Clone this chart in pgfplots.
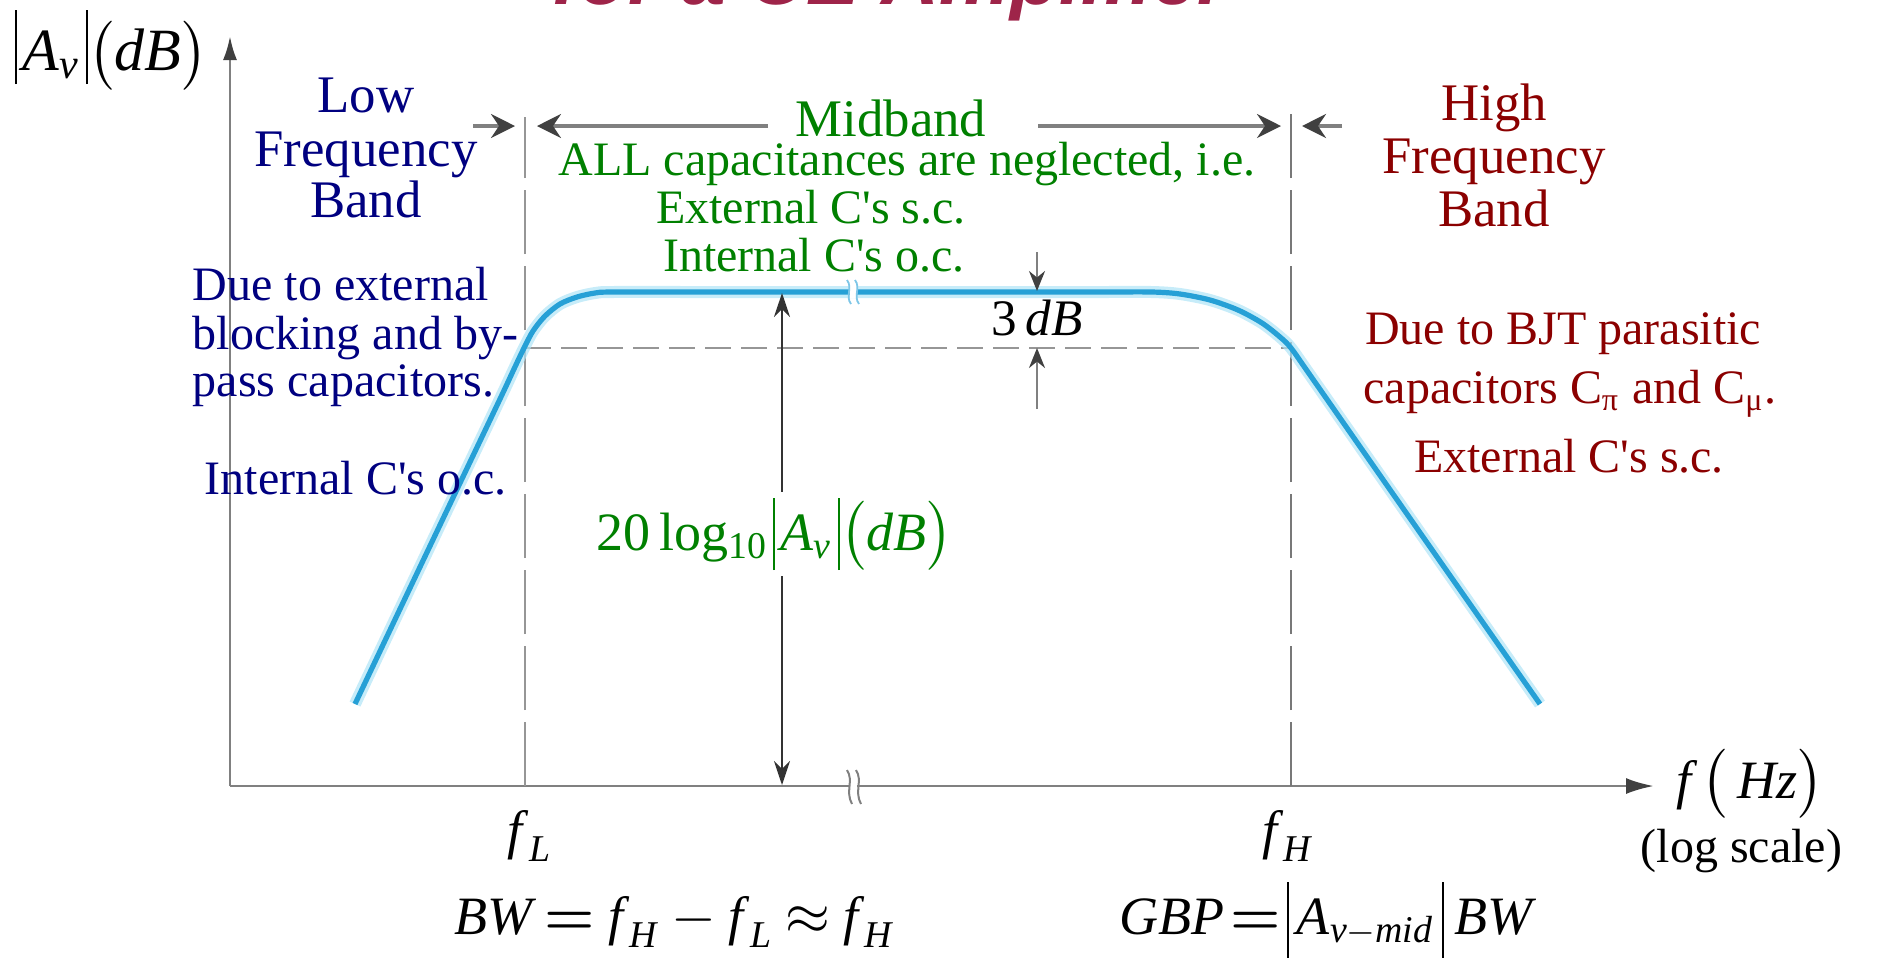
\documentclass[border=0pt]{standalone}
\usepackage{amsmath}
\usepackage{fontspec}
\setmainfont{Liberation Serif}
\newfontfamily\titlefont{Liberation Sans}
\usepackage{pgfplots}
\pgfplotsset{compat=1.18}
\usepackage{pgfplotstable}
\usetikzlibrary{arrows.meta}

\definecolor{curveblue}{RGB}{38,160,214}
\definecolor{glowblue}{RGB}{175,228,246}
\definecolor{bandnavy}{RGB}{0,0,128}
\definecolor{midgreen}{RGB}{0,128,0}
\definecolor{hired}{RGB}{139,0,0}
\definecolor{titlered}{RGB}{158,36,73}
\definecolor{axisgray}{RGB}{128,128,128}
\definecolor{dashgray}{RGB}{150,150,150}

\newcommand\bodyfont{\fontsize{12}{12.5}\selectfont}
\newcommand\headfont{\fontsize{13.2}{13.2}\selectfont}
\newcommand\eqfont{\fontsize{13.5}{13.5}\selectfont}
\newcommand\sq{\textquotesingle}
\newcommand\beq{\mathord{\boldsymbol{=}}}
% absolute-value bar of a given height and depth
\newcommand\tbar[2]{\vrule width 0.5pt height #1 depth #2\relax}

% magnitude response of the amplifier (schematic, log-frequency axis)
\pgfplotstableread{
x y
355 253
400 348
450 453
500 558
514 588
524 609
533 626
545 641
560 653
577 660
595 664
612 665
700 665
800 665
900 665
1000 665
1100 665
1152 665
1180 663
1210 657
1238 647
1262 634
1280 620
1291 609
1310 582
1400 453
1500 310
1540 253
}\curvedata

\begin{document}
\begin{tikzpicture}
\begin{axis}[
  scale only axis,
  width=356pt, height=187.5pt,
  xmin=230, xmax=1654, ymin=171, ymax=921,
  axis lines=left,
  x axis line style={draw=axisgray, line width=0.7pt, -{Latex[length=7pt,width=4pt,black!75]}},
  y axis line style={draw=axisgray, line width=0.7pt, -{Latex[length=6pt,width=3.5pt,black!75]}},
  xtick=\empty, ytick=\empty,
  clip=false,
]
\coordinate (bbsw) at (axis cs:0,0);
\coordinate (bbne) at (axis cs:1882,957);

% cut-off frequencies and the -3 dB level
\draw[dashgray, line width=0.55pt, dash pattern=on 16pt off 3pt] (axis cs:525,171) -- (axis cs:525,840);
\draw[dashgray!80!black, line width=0.55pt, dash pattern=on 16pt off 3pt] (axis cs:1291,171) -- (axis cs:1291,845);
\draw[dashgray, line width=0.55pt, dash pattern=on 6.5pt off 2.5pt] (axis cs:525,609) -- (axis cs:1291,609);

% response curve with its soft halo
\addplot[glowblue, line width=3pt, smooth, tension=0.5, opacity=0.7] table[x=x, y=y] {\curvedata};
\addplot[curveblue, line width=1.3pt, smooth, tension=0.5] table[x=x, y=y] {\curvedata};

% break marks on the curve and on the frequency axis
\fill[white] (axis cs:850,659) rectangle (axis cs:857,671);
\draw[curveblue!60, line width=0.45pt] (axis cs:847,677) .. controls (axis cs:853,669) and (axis cs:845,661) .. (axis cs:851,653);
\draw[curveblue!60, line width=0.45pt] (axis cs:855,677) .. controls (axis cs:861,669) and (axis cs:853,661) .. (axis cs:859,653);
\fill[white] (axis cs:850,165) rectangle (axis cs:857,177);
\draw[axisgray, line width=0.5pt] (axis cs:847,187) .. controls (axis cs:854,176) and (axis cs:845,166) .. (axis cs:852,153);
\draw[axisgray, line width=0.5pt] (axis cs:856,187) .. controls (axis cs:863,176) and (axis cs:854,166) .. (axis cs:861,153);

% midband extent markers
\begin{scope}[axisgray, line width=0.8pt, -{Stealth[length=6pt,width=6pt,inset=2pt,black!75]}]
\draw (axis cs:473,831) -- (axis cs:515,831);
\draw (axis cs:768,831) -- (axis cs:537,831);
\draw (axis cs:1038,831) -- (axis cs:1281,831);
\draw (axis cs:1342,831) -- (axis cs:1302,831);
\end{scope}

% 3 dB markers
\draw[axisgray, line width=0.6pt, -{Stealth[length=5pt,width=4pt,black!75]}] (axis cs:1037,705) -- (axis cs:1037,666);
\draw[axisgray, line width=0.6pt, -{Stealth[length=5pt,width=4pt,black!75]}] (axis cs:1037,548) -- (axis cs:1037,609);
\node[anchor=base, inner sep=0pt, font=\fontsize{12.8}{12.8}\selectfont] at (axis cs:1037,622) {3\,\textit{dB}};

% midband gain
\draw[black!80, line width=0.6pt, {Stealth[length=6pt,width=4pt]}-{Stealth[length=6pt,width=4pt]}] (axis cs:782,664) -- (axis cs:782,172);
\node[anchor=base, fill=white, inner sep=1.5pt, text=midgreen, font=\eqfont] at (axis cs:775,407)
  {20\,log\textsubscript{10}\kern1pt\tbar{13pt}{5pt}\kern1.5pt\textit{A}\textsubscript{\textit{v}}\kern1.5pt\tbar{13pt}{5pt}$\bigl($\textit{dB}$\bigr)$};

% axis titles
\node[anchor=base west, inner sep=0pt, font=\fontsize{15}{15}\selectfont] at (axis cs:14,887)
  {\tbar{15pt}{3.5pt}\kern1.5pt\textit{A}\textsubscript{\textit{v}}\kern1.5pt\tbar{15pt}{3.5pt}$\bigl($\textit{dB}$\bigr)$};
\node[anchor=base west, inner sep=0pt, font=\eqfont] at (axis cs:1676,159)
  {$\textit{f}\,\bigl(\,\textit{Hz}\bigr)$};
\node[anchor=base west, inner sep=0pt, font=\bodyfont] at (axis cs:1640,95) {(log scale)};
\node[anchor=base, inner sep=0pt, font=\eqfont] at (axis cs:530,109) {$\textit{f}_{\,\textit{L}}$};
\node[anchor=base, inner sep=0pt, font=\eqfont] at (axis cs:1288,109) {$\textit{f}_{\,\textit{H}}$};

% bandwidth relations
\node[anchor=base, inner sep=0pt, font=\eqfont] at (axis cs:674,23)
  {$\textit{BW}\mkern4mu\beq\mkern4mu\textit{f}_{\,\textit{H}}\mkern4mu\mathord{-}\mkern4mu\textit{f}_{\,\textit{L}}\mkern4mu\mathord{\approx}\mkern4mu\textit{f}_{\,\textit{H}}$};
\node[anchor=base, inner sep=0pt, font=\eqfont] at (axis cs:1328,23)
  {\textit{GBP}\kern1.5pt$\beq$\kern1.5pt\tbar{13pt}{6pt}\kern2pt\textit{A}$_{\textit{v}-\textit{mid}}$\kern2pt\tbar{13pt}{6pt}\kern2.5pt\textit{BW}};

% low-frequency band
\begin{scope}[every node/.style={anchor=base, inner sep=0pt, text=bandnavy, font=\headfont}]
\node at (axis cs:366,845) {Low};
\node at (axis cs:366,791) {Frequency};
\node at (axis cs:366,740) {Band};
\end{scope}
\begin{scope}[every node/.style={anchor=base west, inner sep=0pt, text=bandnavy, font=\bodyfont}]
\node at (axis cs:192,657) {Due to external};
\node at (axis cs:192,608) {blocking and by-};
\node at (axis cs:192,561) {pass capacitors.};
\node at (axis cs:204,463) {Internal C\sq s o.c.};
\end{scope}

% midband
\begin{scope}[every node/.style={anchor=base, inner sep=0pt, text=midgreen, font=\bodyfont}]
\node[font=\headfont] at (axis cs:891,821) {Midband};
\node at (axis cs:907,782) {ALL capacitances are neglected, i.e.};
\node at (axis cs:811,734) {External C\sq s s.c.};
\node at (axis cs:814,686) {Internal C\sq s o.c.};
\end{scope}

% high-frequency band
\begin{scope}[every node/.style={anchor=base, inner sep=0pt, text=hired, font=\headfont}]
\node at (axis cs:1494,837) {High};
\node at (axis cs:1494,784) {Frequency};
\node at (axis cs:1494,731) {Band};
\end{scope}
\begin{scope}[every node/.style={anchor=base, inner sep=0pt, text=hired, font=\bodyfont}]
\node at (axis cs:1563,613) {Due to BJT parasitic};
\node at (axis cs:1570,554) {capacitors C\textsubscript{π} and C\textsubscript{μ}.};
\node at (axis cs:1569,485) {External C\sq s s.c.};
\end{scope}

% heading above the plot
\node[anchor=base west, inner sep=0pt, text=titlered, font=\titlefont\bfseries\itshape\fontsize{20}{20}\selectfont]
  at (axis cs:552,953) {for a CE Amplifier};
\end{axis}
\pgfresetboundingbox
\useasboundingbox (bbsw) rectangle (bbne);
\end{tikzpicture}
\end{document}
